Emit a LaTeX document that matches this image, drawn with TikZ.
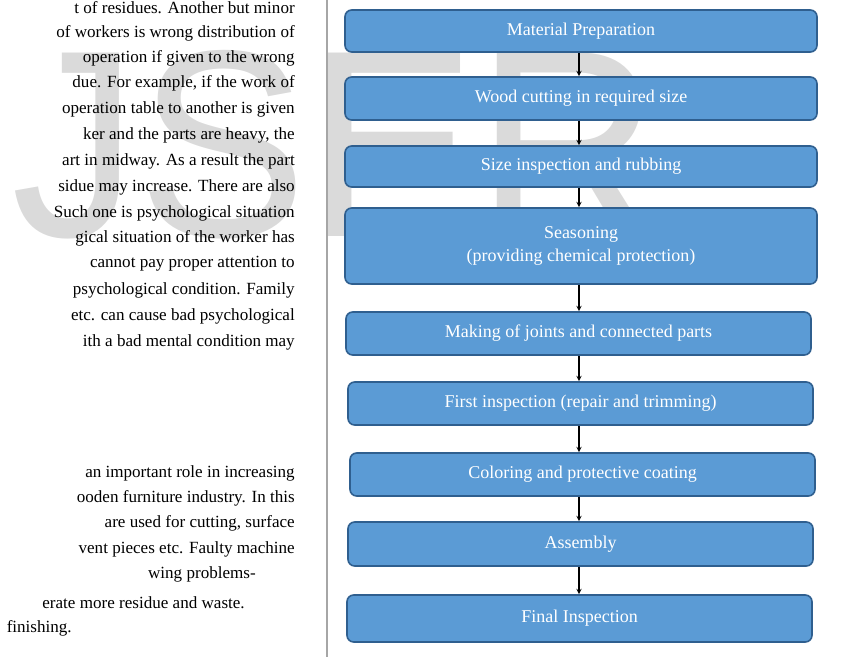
\documentclass[tikz,border=0pt]{standalone}
\usepackage{fontspec}
\setmainfont{Liberation Serif}
\setsansfont{Liberation Sans}
\usetikzlibrary{positioning,arrows}
\definecolor{boxfill}{HTML}{5B9BD5}
\definecolor{boxedge}{HTML}{2F5F8F}
\definecolor{wmark}{HTML}{DADADA}

\begin{document}
\begin{tikzpicture}
[x=0.75pt, y=-0.75pt, >=stealth,
 stage/.style={draw=boxedge, line width=1.2pt, fill=boxfill, rounded corners=5pt,
   text=white, font=\fontsize{13.5}{17}\selectfont, align=center, inner sep=0pt},
 body/.style={anchor=east, inner sep=0pt, font=\fontsize{12.8}{15}\selectfont}]

\useasboundingbox (0,0) rectangle (850,657);
\clip (0,0) rectangle (850,657);

% Watermark:
\node[text=wmark, font=\fontsize{200}{200}\sffamily, xscale=0.95] (mark) at (300,145) {IJSER};

% Body text:
\foreach \y/\t in {
  8/{t of residues. Another but minor},
  33/{of workers is wrong distribution of},
  58/{operation if given to the wrong},
  83/{due. For example, if the work of},
  109/{operation table to another is given},
  135/{ker and the parts are heavy, the},
  161/{art in midway. As a result the part},
  187/{sidue may increase. There are also},
  213/{Such one is psychological situation},
  238/{gical situation of the worker has},
  264/{cannot pay proper attention to},
  290/{psychological condition. Family},
  316/{ etc. can cause bad psychological},
  342/{ith a bad mental condition may},
  473/{an important role in increasing},
  498/{ooden furniture industry. In this},
  523/{are used for cutting, surface},
  549/{vent pieces etc. Faulty machine}}
  \node[body] at (295,\y) {\t};
\node[body] at (256,574) {wing problems-};
\node[body] at (245,603) {erate more residue and waste.};
\node[body] at (72,628) {finishing.};

% Column rule:
\draw[gray!70, line width=0.8pt] (327,0) -- (327,657);

% Stages:
\node[stage, minimum width=472*0.75pt, minimum height=42*0.75pt] (prep) at (581,31) {Material Preparation};
\node[stage, minimum width=472*0.75pt, minimum height=43*0.75pt] (cut) at (581,98.5) {Wood cutting in required size};
\node[stage, minimum width=472*0.75pt, minimum height=41*0.75pt] (size) at (581,166.5) {Size inspection and rubbing};
\node[stage, minimum width=472*0.75pt, minimum height=76*0.75pt] (season) at (581,246) {Seasoning\\(providing chemical protection)};
\node[stage, minimum width=465*0.75pt, minimum height=43*0.75pt] (joint) at (578.5,333.5) {Making of joints and connected parts};
\node[stage, minimum width=465*0.75pt, minimum height=43*0.75pt] (first) at (580.5,403.5) {First inspection (repair and trimming)};
\node[stage, minimum width=465*0.75pt, minimum height=43*0.75pt] (color) at (582.5,474.5) {Coloring and protective coating};
\node[stage, minimum width=465*0.75pt, minimum height=44*0.75pt] (assem) at (580.5,544) {Assembly};
\node[stage, minimum width=465*0.75pt, minimum height=47*0.75pt] (final) at (579.5,618.5) {Final Inspection};

% Connectors:
\coordinate (axis) at (579,0);
\foreach \a/\b in {prep/cut, cut/size, size/season, season/joint, joint/first, first/color, color/assem, assem/final}
  \draw[->, thick] (\a.south -| axis) -- (\b.north -| axis);
\end{tikzpicture}
\end{document}
